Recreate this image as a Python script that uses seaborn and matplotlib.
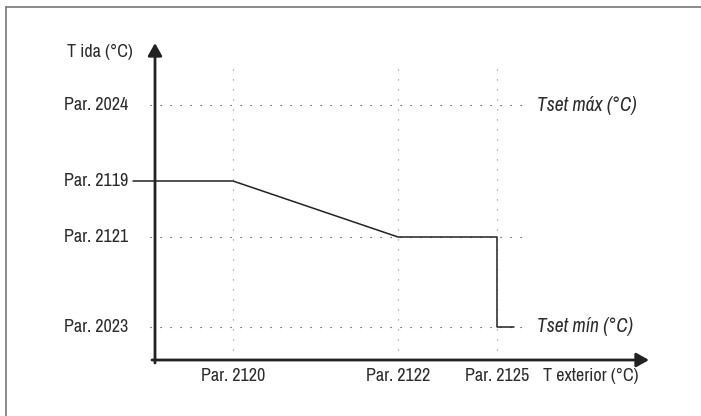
import numpy as np
import pandas as pd
import seaborn as sns
import matplotlib.pyplot as plt
from matplotlib.lines import Line2D
from matplotlib import font_manager


# 1. DATA (positions, in px from the axis origin)

x_ticks = [78, 243, 342]
x_labels = ["Par. 2120", "Par. 2122", "Par. 2125"]

y_ticks = [255, 179, 123, 33]
y_labels = ["Par. 2024", "Par. 2119", "Par. 2121", "Par. 2023"]

curve_x = [-22, 78, 243, 342, 342, 359]
curve_y = [179, 179, 123, 123, 33, 33]

x_end = 494
y_end = 317
grid_top = 300
grid_right = 375

# 2. STYLE

sns.set_style("white")

# look for a condensed face, else fall back to Liberation Sans
names = sorted({f.name for f in font_manager.fontManager.ttflist})
narrow = [n for n in names if "Narrow" in n or "Condensed" in n]
family = narrow[0] if narrow else "Liberation Sans"
plt.rcParams["font.family"] = [family, "DejaVu Sans"]
txt = "#2b2b2b"
fs = 13

fig = plt.figure(figsize=(7.01, 4.16), dpi=100)
W, H = 701, 416
ax = fig.add_axes([155 / W, (H - 360) / H, x_end / W, y_end / H])

# 3. GRID

ax.vlines(x_ticks, 0, grid_top, colors="#888888", lw=0.8,
          linestyles=[(0, (1, 8))])
ax.hlines([y_ticks[0], y_ticks[2], y_ticks[3]], -5, grid_right,
          colors="#333333", lw=0.8, linestyles=[(0, (1, 8))], clip_on=False)

# 4. CURVE

df = pd.DataFrame({"x": curve_x, "y": curve_y})
sns.lineplot(data=df, x="x", y="y", sort=False, estimator=None,
             color="#222222", lw=1.1, ax=ax)
for l in ax.lines:
    l.set_clip_on(False)
ax.axis("off")
ax.set_xlim(0, x_end)
ax.set_ylim(0, y_end)

# 5. AXES WITH ARROWS

arrow = dict(arrowstyle="-|>,head_length=0.5,head_width=0.28", lw=2,
             color="#222222", mutation_scale=15, shrinkA=0, shrinkB=0)
ax.annotate("", xy=(x_end, 0), xytext=(-3, 0), arrowprops=arrow,
            annotation_clip=False)
ax.annotate("", xy=(0, y_end), xytext=(0, -3), arrowprops=arrow,
            annotation_clip=False)

# 6. TEXTS

for y, lab in zip(y_ticks, y_labels):
    ax.text(-27, y, lab, ha="right", va="center", fontsize=fs, color=txt)
for x, lab in zip(x_ticks, x_labels):
    ax.text(x, -16, lab, ha="center", va="center", fontsize=fs, color=txt)

ax.text(-22, 308, "T ida (°C)", ha="right", va="center", fontsize=fs, color=txt)
ax.text(388, -16, "T exterior (°C)", ha="left", va="center", fontsize=fs, color=txt)
ax.text(382, y_ticks[0], "Tset máx (°C)", ha="left", va="center",
        fontsize=14, color=txt, style="italic")
ax.text(382, y_ticks[3], "Tset mín (°C)", ha="left", va="center",
        fontsize=14, color=txt, style="italic")

# 7. FRAME (top and left only)

fig.add_artist(Line2D([6 / W, 6 / W], [0, 1 - 7 / H], color="#777777", lw=1.2))
fig.add_artist(Line2D([6 / W, 1], [1 - 7 / H, 1 - 7 / H], color="#777777", lw=1.2))

fig.savefig("out.png", dpi=100)
plt.close()
